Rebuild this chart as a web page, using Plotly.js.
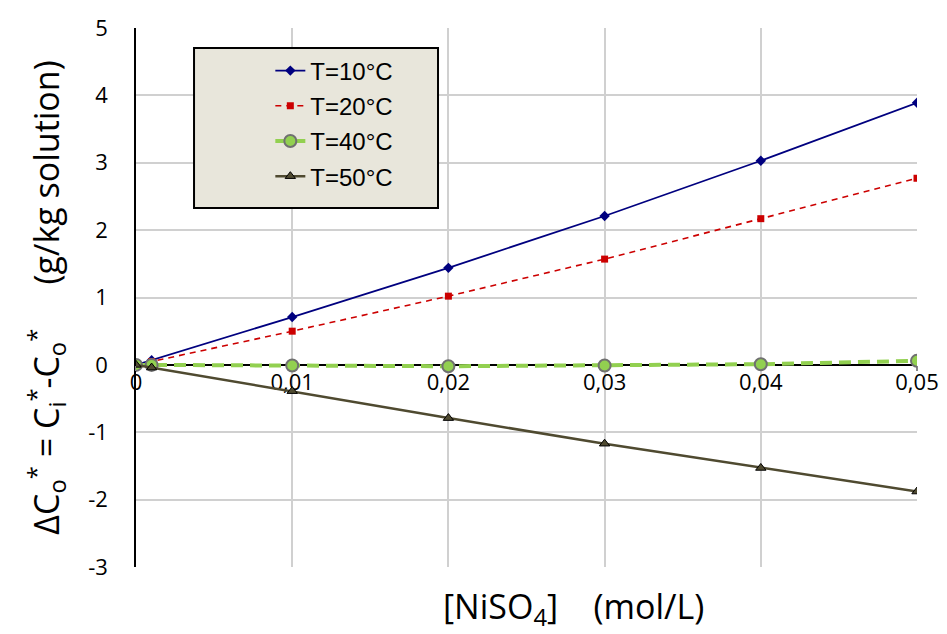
<!DOCTYPE html>
<html><head><meta charset="utf-8">
<script src="https://cdn.plot.ly/plotly-3.0.1.min.js"></script>
<style>body{margin:0;background:#fff}#chart{width:947px;height:634px}</style>
</head><body><div id="chart"></div>
<script>
const conc = [0, 0.001, 0.01, 0.02, 0.03, 0.04, 0.05];
const t10 = [0, 0.07, 0.71, 1.44, 2.21, 3.03, 3.89];
const t20 = [0, 0.05, 0.50, 1.02, 1.57, 2.17, 2.77];
const t40 = [0, 0.00, -0.01, -0.02, -0.01, 0.01, 0.06];
const t50 = [0, -0.04, -0.39, -0.79, -1.17, -1.53, -1.88];
const xTickVals = [0, 0.01, 0.02, 0.03, 0.04, 0.05];
const xTickText = ['0', '0,01', '0,02', '0,03', '0,04', '0,05'];
const yTickVals = [-3, -2, -1, 0, 1, 2, 3, 4, 5];
const yTickText = ['-3', '-2', '-1', '0', '1', '2', '3', '4', '5'];
const names = ['T=10°C', 'T=20°C', 'T=40°C', 'T=50°C'];

const traces = [
  {x: conc, y: t10, name: names[0], legendgroup: 'a', mode: 'lines+markers',
   line: {color: '#00007F', width: 1.8},
   marker: {symbol: 'diamond', size: 8, color: '#00007F'}},
  {x: conc, y: t20, name: names[1], legendgroup: 'b', mode: 'lines+markers',
   line: {color: '#CC0000', width: 1.6, dash: '6px,5px'},
   marker: {symbol: 'square', size: 7, color: '#CC0000'}},
  {x: conc, y: t40, name: names[2], legendgroup: 'c', mode: 'lines+markers',
   line: {color: '#92D050', width: 4, dash: '12px,7px'},
   marker: {symbol: 'circle', size: 12, color: '#92D050', line: {color: '#707070', width: 2}}},
  {x: conc, y: t50, name: names[3], legendgroup: 'd', mode: 'lines+markers',
   line: {color: '#4F4A30', width: 2.5},
   marker: {symbol: 'triangle-up', size: 9, color: '#4F4A30', line: {color: '#000', width: 1}}}
];

const titleFont = {family: 'Open Sans, Noto Sans, sans-serif', size: 34, color: '#000'};
const layout = {
  width: 947, height: 634,
  margin: {l: 136, r: 30, t: 28, b: 67},
  paper_bgcolor: '#fff', plot_bgcolor: '#fff',
  separators: ', ',
  showlegend: true,
  legend: {x: 0.172, y: 0.962, xanchor: 'left', yanchor: 'top',
    bgcolor: 'rgba(0,0,0,0)', borderwidth: 0,
    font: {family: 'Liberation Sans, Arial, sans-serif', size: 24, color: '#000'},
    tracegroupgap: 1},
  shapes: [{type: 'rect', xref: 'paper', yref: 'paper', layer: 'above',
    x0: 0.0743, x1: 0.3867, y0: 0.666, y1: 0.963,
    fillcolor: '#E8E6DB', line: {color: '#000', width: 2}}],
  xaxis: {range: [0, 0.05], tickvals: xTickVals, ticktext: xTickText,
    anchor: 'free', position: 0.375, layer: 'below traces',
    showgrid: true, gridcolor: '#D0D0D0', gridwidth: 1.5,
    showline: true, linecolor: '#000', linewidth: 1.5,
    ticks: 'outside', ticklen: 5, tickcolor: '#888', tickwidth: 1.5,
    ticklabelstandoff: -7,
    zeroline: false,
    tickfont: {family: 'Open Sans, Noto Sans, sans-serif', size: 22, color: '#000'}},
  yaxis: {range: [-3, 5], tickvals: yTickVals, ticktext: yTickText, domain: [0, 1], layer: 'below traces',
    showgrid: true, gridcolor: '#D0D0D0', gridwidth: 1.5,
    showline: true, linecolor: '#000', linewidth: 1.5,
    zeroline: true, zerolinecolor: '#000', zerolinewidth: 1.5,
    ticks: '', ticklabelstandoff: 22,
    tickfont: {family: 'Open Sans, Noto Sans, sans-serif', size: 22, color: '#000'},
    title: {text: 'ΔC<sub>o</sub><sup>*</sup> = C<sub>i</sub><sup>*</sup>-C<sub>o</sub><sup>*</sup>     (g/kg solution)',
      font: titleFont, standoff: 18}},
  annotations: [{text: '[NiSO<sub>4</sub>]    (mol/L)', xref: 'paper', yref: 'paper',
    x: 0.56, y: -0.076, xanchor: 'center', yanchor: 'middle', showarrow: false,
    font: titleFont}]
};
Plotly.newPlot('chart', traces, layout, {displayModeBar: false});
</script></body></html>
